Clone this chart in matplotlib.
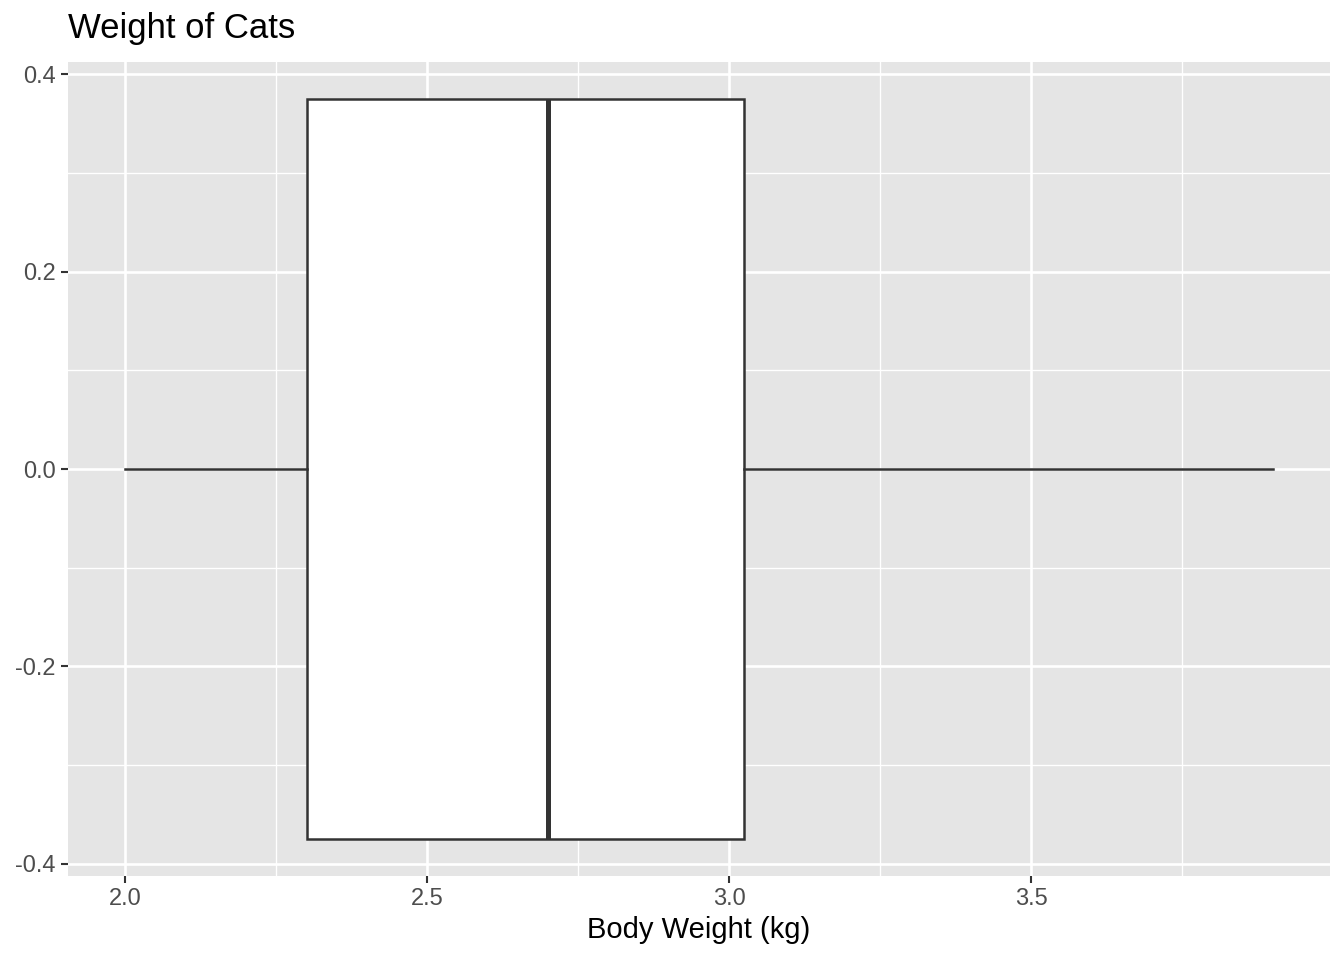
import matplotlib
matplotlib.use("Agg")
import matplotlib.pyplot as plt
from matplotlib.ticker import MultipleLocator

# summary of cat body weight (kg)
whisker_low = 2.0
q1 = 2.3
median = 2.7
q3 = 3.025
whisker_high = 3.9

x_ticks = [2.0, 2.5, 3.0, 3.5]
y_ticks = [-0.4, -0.2, 0.0, 0.2, 0.4]

plt.rcParams['font.family'] = ['Liberation Sans', 'DejaVu Sans']

fig = plt.figure(figsize=(13.44, 9.6), dpi=100)
ax = fig.add_axes([68 / 1344, 1 - 876 / 960, (1330 - 68) / 1344, (876 - 62) / 960])
ax.set_facecolor('#E5E5E5')

stats = [{
    'whislo': whisker_low, 'q1': q1, 'med': median, 'q3': q3, 'whishi': whisker_high,
    'fliers': [],
}]
box_w = 0.75
ax.bxp(stats, positions=[0], widths=box_w, orientation='horizontal',
       showcaps=False, showfliers=False, patch_artist=True,
       boxprops=dict(facecolor='white', edgecolor='#333333', linewidth=1.8),
       whiskerprops=dict(color='#333333', linewidth=1.8),
       medianprops=dict(color='#333333', linewidth=3.6, solid_capstyle='butt'),
       zorder=3)

# ggplot-like 5% expansion
span = whisker_high - whisker_low
ax.set_xlim(whisker_low - 0.05 * span, whisker_high + 0.05 * span)
ax.set_ylim(-box_w / 2 * 1.1, box_w / 2 * 1.1)

ax.set_xticks(x_ticks)
ax.set_xticklabels([f'{v:.1f}' for v in x_ticks])
ax.set_yticks(y_ticks)
ax.set_yticklabels([f'{v:.1f}' for v in y_ticks])
ax.xaxis.set_minor_locator(MultipleLocator(0.25))
ax.yaxis.set_minor_locator(MultipleLocator(0.1))

ax.grid(which='major', color='white', linewidth=1.9)
ax.grid(which='minor', color='white', linewidth=0.95)
ax.set_axisbelow(True)
for s in ax.spines.values():
    s.set_visible(False)

ax.tick_params(which='major', length=5.3, width=1.5, color='#333333',
               labelsize=17, labelcolor='#4D4D4D', pad=3.5)
ax.tick_params(which='minor', length=0)

ax.set_xlabel('Body Weight (kg)', fontsize=21, color='black', labelpad=4)
ax.set_title('Weight of Cats', fontsize=25, loc='left', pad=17)

fig.savefig('out.png', dpi=100)
